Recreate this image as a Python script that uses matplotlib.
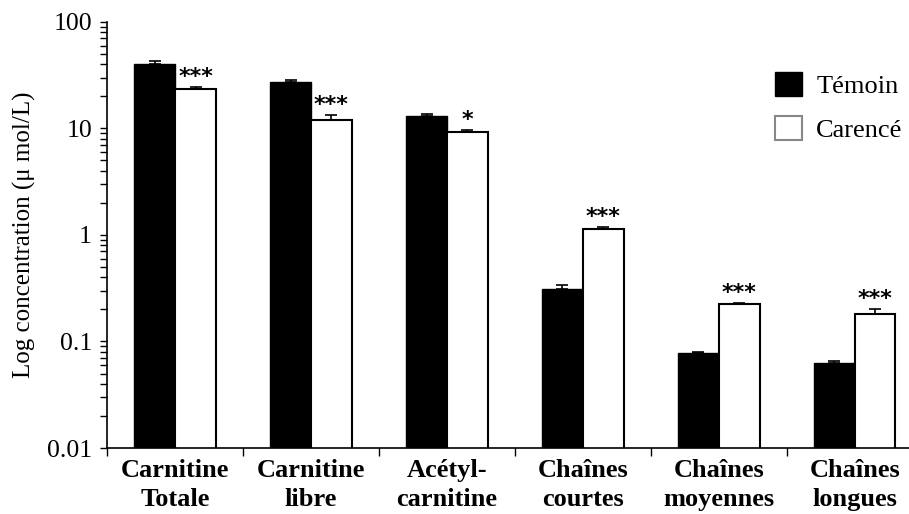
import matplotlib.pyplot as plt
from matplotlib.patches import Patch
from matplotlib.ticker import FixedLocator, FuncFormatter, LogLocator, NullFormatter
import numpy as np

plt.rcParams['font.family'] = ['Liberation Serif', 'DejaVu Serif']

categories = ["Carnitine\nTotale", "Carnitine\nlibre", "Acétyl-\ncarnitine",
              "Chaînes\ncourtes", "Chaînes\nmoyennes", "Chaînes\nlongues"]
temoin = [40.6, 27.3, 13.1, 0.308, 0.078, 0.063]
temoin_err = [2.4, 1.2, 0.7, 0.032, 0.002, 0.003]
carence = [23.2, 12.0, 9.27, 1.14, 0.223, 0.181]
carence_err = [1.3, 1.4, 0.4, 0.05, 0.008, 0.02]
signif = ["***", "***", "*", "***", "***", "***"]

fig = plt.figure(figsize=(9.09, 5.14), dpi=100)
ax = fig.add_axes([0.118, 0.1284, 0.882, 0.829])

x = np.arange(len(categories))
w = 0.3
zeros = np.zeros(len(categories))

ax.bar(x - w / 2, temoin, w, color='black', edgecolor='black', linewidth=1,
       yerr=[zeros, temoin_err], capsize=4.5,
       error_kw=dict(ecolor='black', elinewidth=1.2, capthick=1.2), zorder=2)
ax.bar(x + w / 2, carence, w, color='white', edgecolor='black', linewidth=1.5,
       yerr=[zeros, carence_err], capsize=4.5,
       error_kw=dict(ecolor='black', elinewidth=1.2, capthick=1.2), zorder=2)

# étoiles de significativité au-dessus des barres carencées
for i in range(len(categories)):
    top = carence[i] + carence_err[i]
    ax.text(x[i] + w / 2, top * 1.0, signif[i], ha='center', va='bottom',
            fontsize=16, fontweight='bold', family='DejaVu Sans')

ax.set_yscale('log')
ax.set_ylim(0.01, 100)
ax.set_xlim(-0.5, 5.4)

ax.yaxis.set_major_locator(FixedLocator([0.01, 0.1, 1, 10, 100]))
ax.yaxis.set_major_formatter(FuncFormatter(lambda v, p: '%g' % v))
ax.yaxis.set_minor_locator(LogLocator(base=10, subs=np.arange(2, 10)))
ax.yaxis.set_minor_formatter(NullFormatter())
ax.tick_params(axis='y', which='both', direction='out', length=5, width=1,
               labelsize=18.5, pad=6)

# séparateurs de catégories et étiquettes centrées
ax.set_xticks(np.arange(-0.5, 5.5, 1.0))
ax.set_xticklabels([])
ax.set_xticks(x, minor=True)
ax.set_xticklabels(categories, minor=True, fontsize=19, fontweight='bold',
                   linespacing=1.3)
ax.tick_params(axis='x', which='major', direction='out', length=6, width=1)
ax.tick_params(axis='x', which='minor', length=0, pad=8)

for s in ['top', 'right']:
    ax.spines[s].set_visible(False)
for s in ['left', 'bottom']:
    ax.spines[s].set_linewidth(1.2)

ax.set_ylabel("Log concentration (μ mol/L)", fontsize=18, labelpad=8)

handles = [Patch(facecolor='black', edgecolor='black', label='Témoin'),
           Patch(facecolor='white', edgecolor='#888888', linewidth=1.5, label='Carencé')]
fig.legend(handles=handles, loc='upper left', bbox_to_anchor=(0.853, 0.86),
           frameon=False, fontsize=19, handlelength=1.0, handleheight=1.0,
           labelspacing=0.7, handletextpad=0.55, borderpad=0, borderaxespad=0)

fig.savefig('out.png', dpi=100)
